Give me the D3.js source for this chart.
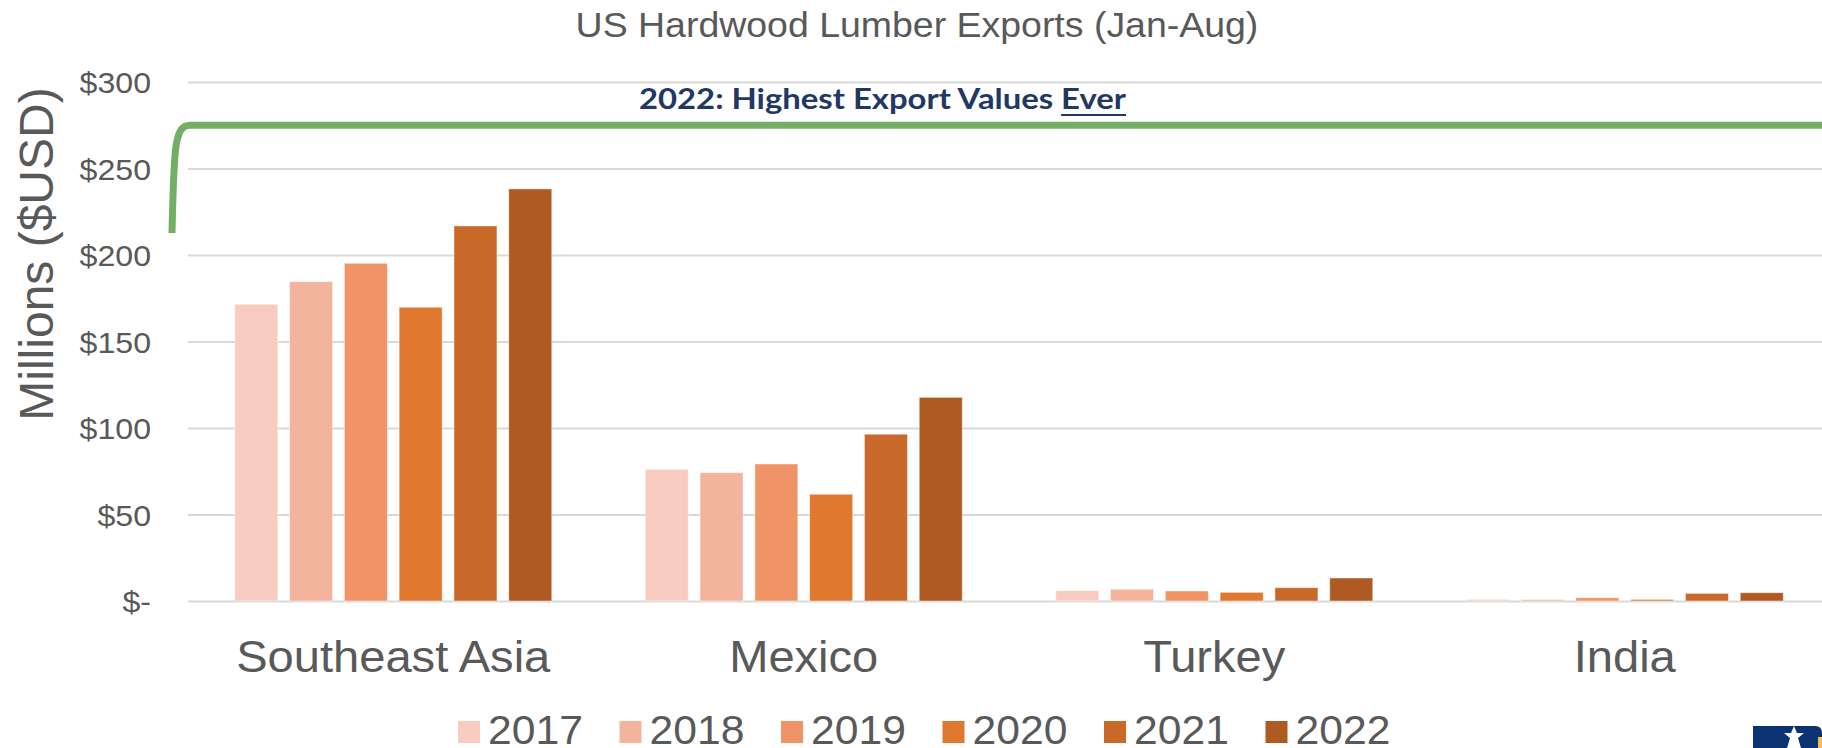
<!DOCTYPE html>
<html>
<head>
<meta charset="utf-8">
<script src="https://cdn.jsdelivr.net/npm/d3@7"></script>
<style>
  html, body { margin: 0; padding: 0; background: #fff; overflow: hidden; }
  svg { display: block; font-family: "Liberation Sans", Arial, sans-serif; }
</style>
</head>
<body>
<svg id="chart" width="1822" height="748"></svg>
<script>
// Export values, millions of USD, January–August
const categories = ["Southeast Asia", "Mexico", "Turkey", "India"];
const years = ["2017", "2018", "2019", "2020", "2021", "2022"];
const values2017 = [171.5, 76.1, 6.0, 0.9];
const values2018 = [184.6, 74.2, 6.8, 0.8];
const values2019 = [195.2, 79.2, 5.8, 1.9];
const values2020 = [169.8, 61.7, 5.0, 0.9];
const values2021 = [216.8, 96.4, 7.7, 4.4];
const values2022 = [238.2, 117.7, 13.3, 4.8];
const yTicks = [0, 50, 100, 150, 200, 250, 300];
const yearColors = ["#F7CBBF", "#F4B39C", "#F09468", "#E1782F", "#C9692A", "#AE5A22"];
const chartTitle = "US Hardwood Lumber Exports (Jan-Aug)";
const yTitle = "Millions ($USD)";
const noteLead = "2022: Highest Export Values ";
const noteTail = "Ever";
const noteLevel = 275; // level of the bracket line, in millions

const series = [values2017, values2018, values2019, values2020, values2021, values2022];
const rows = [];
categories.forEach((c, ci) => years.forEach((yr, yi) => rows.push({ cat: c, year: yr, value: series[yi][ci] })));

const svg = d3.select("#chart");
const textColor = "#595959";

// slight horizontal widening of the text glyphs
function widen(sel, k) {
  sel.each(function () {
    const w = this.getComputedTextLength();
    this.setAttribute("textLength", w * k);
    this.setAttribute("lengthAdjust", "spacingAndGlyphs");
  });
}

const plotLeft = 188, plotRight = 1830, plotTop = 82, plotBottom = 601;

const x0 = d3.scaleBand().domain(categories).range([plotLeft, plotRight]).padding(0);
const groupW = 317;
const x1 = d3.scaleBand().domain(years)
  .range([(x0.bandwidth() - groupW) / 2, (x0.bandwidth() + groupW) / 2])
  .paddingInner(0.215).paddingOuter(0);
const y = d3.scaleLinear().domain([0, 300]).range([plotBottom, plotTop]);
const color = d3.scaleOrdinal().domain(years).range(yearColors);

// value axis with gridlines
const yAxis = svg.append("g")
  .attr("transform", `translate(${plotLeft},0)`)
  .call(d3.axisLeft(y).tickValues(yTicks)
    .tickSize(-(plotRight - plotLeft)).tickPadding(37)
    .tickFormat(d => d === 0 ? "$-" : "$" + d));
yAxis.select(".domain").remove();
yAxis.selectAll(".tick line").attr("stroke", "#D9D9D9").attr("stroke-width", 1.8);
yAxis.selectAll(".tick text")
  .attr("fill", textColor).attr("font-size", 30)
  .attr("font-family", "Liberation Sans, Arial, sans-serif")
  .attr("dy", "0.36em")
  .call(widen, 1.07);

// bars
svg.append("g").selectAll("rect").data(rows).join("rect")
  .attr("x", d => x0(d.cat) + x1(d.year))
  .attr("width", x1.bandwidth())
  .attr("y", d => y(d.value))
  .attr("height", d => y(0) - y(d.value))
  .attr("fill", d => color(d.year))
  .attr("stroke", "#fff").attr("stroke-opacity", 0.45).attr("stroke-width", 1);

// category labels
svg.append("g").selectAll("text").data(categories).join("text")
  .attr("x", d => x0(d) + x0.bandwidth() / 2)
  .attr("y", 672)
  .attr("text-anchor", "middle")
  .attr("font-size", 44)
  .attr("fill", textColor)
  .text(d => d)
  .call(widen, 1.07);

// chart title
svg.append("text")
  .attr("x", 917).attr("y", 37)
  .attr("text-anchor", "middle")
  .attr("font-size", 35)
  .attr("fill", textColor)
  .text(chartTitle)
  .call(widen, 1.07);

// value axis title
svg.append("text")
  .attr("transform", `translate(53,${(88 + 420) / 2}) rotate(-90)`)
  .attr("text-anchor", "middle")
  .attr("font-size", 48)
  .attr("fill", textColor)
  .text(yTitle);

// bracket marking the 2022 record level
const lineY = y(noteLevel);
const bracket = d3.path();
bracket.moveTo(172, 233);
bracket.bezierCurveTo(174, 150, 174, lineY, 190, lineY);
bracket.lineTo(1822, lineY);
svg.append("path")
  .attr("d", bracket.toString())
  .attr("fill", "none")
  .attr("stroke", "#72AF64")
  .attr("stroke-width", 7);

// annotation text
const note = svg.append("text")
  .attr("x", 639).attr("y", 109)
  .attr("font-family", "Lato, 'Open Sans', sans-serif")
  .attr("font-weight", 700)
  .attr("font-size", 29)
  .attr("fill", "#1F3864")
  .attr("textLength", 487)
  .attr("lengthAdjust", "spacingAndGlyphs");
note.append("tspan").text(noteLead);
note.append("tspan").text(noteTail);
{
  const n = note.node();
  const start = noteLead.length;
  const end = start + noteTail.length - 1;
  const x1u = n.getStartPositionOfChar(start).x;
  const x2u = n.getEndPositionOfChar(end).x;
  svg.append("line")
    .attr("x1", x1u).attr("x2", x2u)
    .attr("y1", 115).attr("y2", 115)
    .attr("stroke", "#1F3864").attr("stroke-width", 2);
}

// legend
const legendStart = 458, legendStep = 161.5;
const legend = svg.append("g").selectAll("g").data(years).join("g")
  .attr("transform", (d, i) => `translate(${legendStart + i * legendStep},0)`);
legend.append("rect")
  .attr("x", 0).attr("y", 721).attr("width", 22).attr("height", 22)
  .attr("fill", d => color(d));
legend.append("text")
  .attr("x", 30).attr("y", 744)
  .attr("font-size", 41)
  .attr("fill", textColor)
  .text(d => d)
  .call(widen, 1.04);

// corner emblem
const emblem = svg.append("g");
emblem.append("path")
  .attr("d", "M1753,748 V726 H1815 Q1822,726 1822,733 V748 Z")
  .attr("fill", "#0B3372");
emblem.append("path")
  .attr("d", "M1787,748 L1790,738 L1784,733 L1791,733 L1794,726 L1797,733 L1804,733 L1798,738 L1801,748 Z")
  .attr("fill", "#fff");
emblem.append("rect")
  .attr("x", 1818).attr("y", 737).attr("width", 4).attr("height", 11)
  .attr("fill", "#F2C14E");
</script>
</body>
</html>
